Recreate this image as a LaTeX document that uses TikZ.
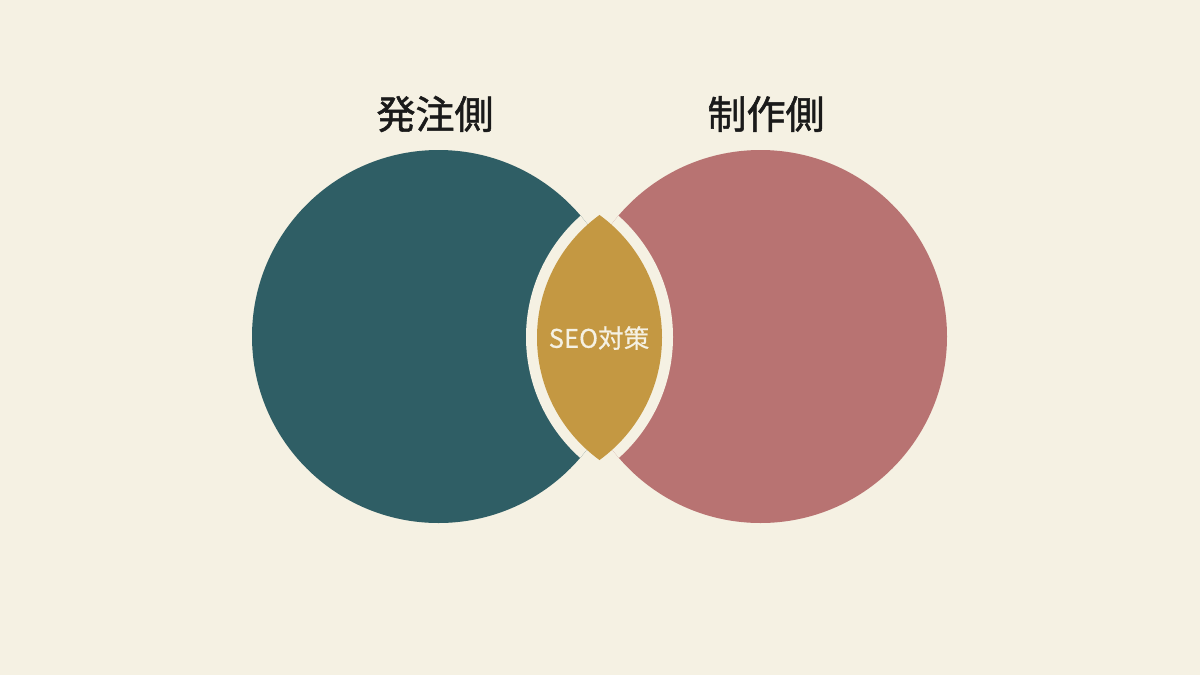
\documentclass[tikz,border=0pt]{standalone}
\usepackage{fontspec}
\newfontfamily\jpfont{Noto Sans CJK JP}
\newfontfamily\jptitlefont[FakeBold=1.3]{Noto Sans CJK JP}
\newfontfamily\jplabelfont[FakeBold=0.6]{Noto Sans CJK JP}
\usepackage{tikz}

\definecolor{bgcream}{HTML}{F5F1E3}
\definecolor{clientteal}{HTML}{2F5E65}
\definecolor{makerrose}{HTML}{B87372}
\definecolor{seogold}{HTML}{C49842}
\definecolor{inkblack}{HTML}{1A1A1A}

\tikzset{
  sidetitle/.style={inner sep=0pt, text=inkblack, font=\jptitlefont\fontsize{19.5}{22}\selectfont},
  lenslabel/.style={inner sep=0pt, text=bgcream, font=\jplabelfont\fontsize{12.8}{14}\selectfont}
}

\begin{document}
\begin{tikzpicture}[x=0.5pt,y=-0.5pt]
\fill[bgcream] (0,0) rectangle (1200,675);

\fill[clientteal] (438.5,336.5) circle (186.5);
\fill[makerrose] (760.5,336.5) circle (186.5);

\begin{scope}
\clip (438.5,336.5) circle (186.5);
\fill[bgcream] (688,337) circle (162);
\end{scope}

\begin{scope}
\clip (760.5,336.5) circle (186.5);
\fill[bgcream] (511,337) circle (162);
\end{scope}

\begin{scope}
\clip (688.3,337.5) circle (151.3);
\fill[seogold] (510.7,337.5) circle (151.3);
\end{scope}

\node[sidetitle] (client) at (435,114) {発注側};
\node[sidetitle] (maker) at (766,114) {制作側};
\node[lenslabel] (seo) at (599,338) {SEO対策};
\end{tikzpicture}
\end{document}
